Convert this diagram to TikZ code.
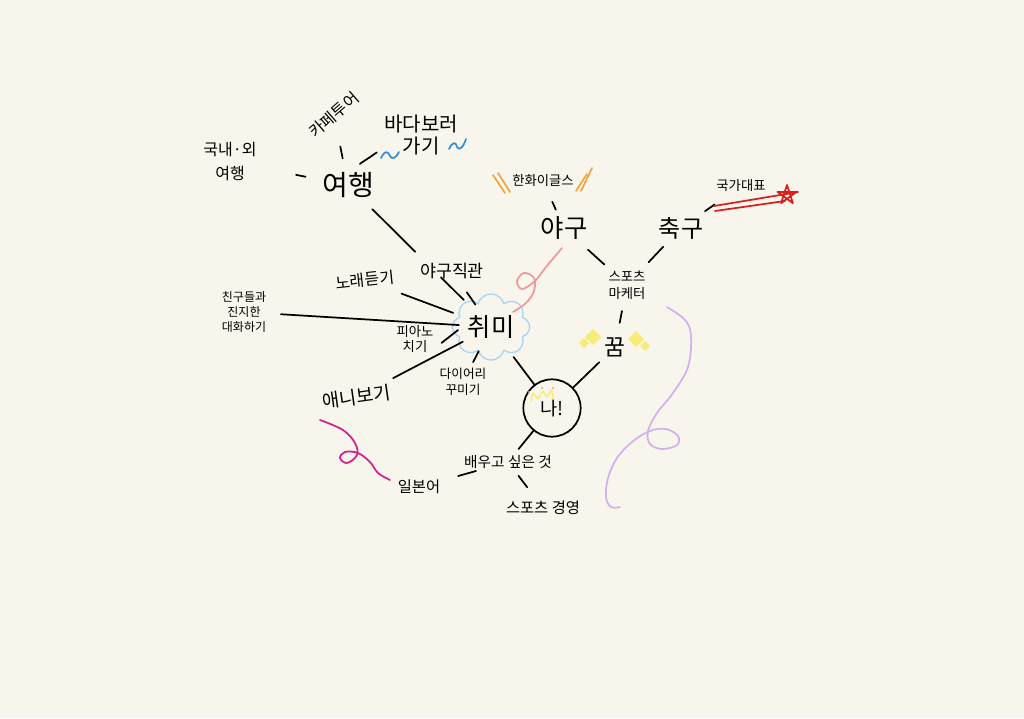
\documentclass[tikz,border=0pt]{standalone}
\usepackage{fontspec}
\setmainfont{Noto Sans CJK KR}
\usepackage{tikz}
\usetikzlibrary{calc,shapes.symbols}
\definecolor{paper}{HTML}{F8F6EC}
\definecolor{cloudblue}{HTML}{A9D5F2}
\definecolor{waveblue}{HTML}{2E8FE0}
\definecolor{eagleorange}{HTML}{F0A540}
\definecolor{flagred}{HTML}{D81F1F}
\definecolor{softpink}{HTML}{EE9A9A}
\definecolor{hotpink}{HTML}{D4208C}
\definecolor{lilac}{HTML}{D4B0EC}
\definecolor{sparkle}{HTML}{F6EC78}

\begin{document}
\begin{tikzpicture}[x=0.75pt, y=-0.75pt, line cap=round, line join=round,
  link/.style={line width=1.3pt},
  lbl/.style={align=center, inner sep=2pt},
  doodle/.style={line width=1.3pt}]

\fill[paper] (0,0) rectangle (1024,718);
\useasboundingbox (0,0) rectangle (1024,718);

% travel
\node (yeohaeng) at (348,185) [font=\fontsize{21}{24}\selectfont]{여행};
\node (cafe) at (334,115) [rotate=41, font=\fontsize{12}{14}\selectfont]{카페투어};
\node (bada) at (421,135) [lbl, font=\fontsize{15}{17}\selectfont]{바다보러\\가기};
\node (abroad) at (230,162) [lbl, font=\fontsize{12}{18}\selectfont]{국내·외\\여행};

% sports
\node (hanwha) at (543,181) [font=\fontsize{10}{12}\selectfont]{한화이글스};
\node (yagu) at (564,228) [font=\fontsize{19}{22}\selectfont]{야구};
\node (chukgu) at (681,228) [font=\fontsize{18}{22}\selectfont]{축구};
\node (national) at (741,186) [font=\fontsize{10}{12}\selectfont]{국가대표};
\node (marketer) at (627,285) [lbl, font=\fontsize{10}{13}\selectfont]{스포츠\\마케터};
\node (kkum) at (615,347) [font=\fontsize{17}{18}\selectfont]{꿈};

% hobbies
\node (yj) at (452,271) [font=\fontsize{13}{15}\selectfont]{야구직관};
\node (song) at (365,280) [rotate=6, font=\fontsize{12}{14}\selectfont]{노래듣기};
\node (friends) at (244,312) [lbl, font=\fontsize{9}{11}\selectfont]{친구들과\\진지한\\대화하기};
\node (piano) at (415,339) [lbl, font=\fontsize{10}{11.5}\selectfont]{피아노\\치기};
\node (chwimi) at (491,327) [cloud, cloud puffs=8, aspect=1.3, draw=cloudblue, line width=1pt,
  minimum width=58pt, minimum height=45pt, inner sep=0pt, font=\fontsize{19}{20}\selectfont]{취미};
\node (ani) at (357,397) [rotate=8, font=\fontsize{14}{16}\selectfont]{애니보기};
\node (diary) at (463,382) [lbl, font=\fontsize{9.5}{12}\selectfont]{다이어리\\꾸미기};

% me and learning
\node (na) at (552,408) [circle, draw, line width=1.3pt, minimum size=43pt, inner sep=0pt,
  font=\fontsize{14}{16}\selectfont]{\raisebox{-4pt}{나!}};
\node (learn) at (508,462) [font=\fontsize{11}{12}\selectfont]{배우고 싶은 것};
\node (japanese) at (419,487) [font=\fontsize{11.5}{13}\selectfont]{일본어};
\node (sportsmgmt) at (543,508) [font=\fontsize{11.5}{13}\selectfont]{스포츠 경영};

% connectors
\draw[link] ($(yeohaeng)!.38!(cafe)$) -- ($(yeohaeng)!.55!(cafe)$);
\draw[link, shorten <=5pt, shorten >=4pt] (yeohaeng.70) -- (bada.200);
\draw[link] ($(yeohaeng)!.36!(abroad)$) -- ($(yeohaeng)!.44!(abroad)$);
\draw[link] ($(yeohaeng)!.17!(chwimi)$) -- ($(yeohaeng)!.47!(chwimi)$);
\draw[link] ($(yeohaeng)!.65!(chwimi)$) -- ($(yeohaeng)!.81!(chwimi)$);
\draw[link] ($(yj)!.38!(chwimi)$) -- ($(yj)!.6!(chwimi)$);
\draw[link] ($(song)!.29!(chwimi)$) -- ($(song)!.7!(chwimi)$);
\draw[link] ($(friends)!.15!(chwimi)$) -- ($(friends)!.87!(chwimi)$);
\draw[link, shorten <=5pt, shorten >=-6pt] ([yshift=-6pt]piano.east) -- ([yshift=-6pt]chwimi.west);
\draw[link] ($(ani)!.27!(chwimi)$) -- ($(ani)!.79!(chwimi)$);
\draw[link] ($(diary)!.36!(chwimi)$) -- ($(diary)!.56!(chwimi)$);
\draw[link] ($(chwimi)!.37!(na)$) -- (na);
\draw[link] ($(kkum)!.25!(na)$) -- (na);
\draw[link] ($(marketer)!.42!(kkum)$) -- ($(marketer)!.61!(kkum)$);
\draw[link] ($(yagu)!.38!(marketer)$) -- ($(yagu)!.64!(marketer)$);
\draw[link] ($(marketer)!.4!(chukgu)$) -- ($(marketer)!.67!(chukgu)$);
\draw[link] ($(hanwha)!.44!(yagu)$) -- ($(hanwha)!.61!(yagu)$);
\draw[link] ($(chukgu)!.4!(national)$) -- ($(chukgu)!.56!(national)$);
\draw[link] (na) -- ($(na)!.76!(learn)$);
\draw[link] ($(learn)!.36!(japanese)$) -- ($(learn)!.56!(japanese)$);
\draw[link] ($(learn)!.3!(sportsmgmt)$) -- ($(learn)!.55!(sportsmgmt)$);

% waves beside the sea
\draw[waveblue, doodle] (381,158) .. controls (385,150) and (388,151) .. (390,156)
  .. controls (392,160) and (396,158) .. (399,152);
\draw[waveblue, doodle] (449,149) .. controls (453,141) and (456,142) .. (457,147)
  .. controls (459,151) and (463,148) .. (466,139);

% eagles slashes
\draw[eagleorange, doodle] (493,175) -- (505,193);
\draw[eagleorange, doodle] (498,173) -- (510,192);
\draw[eagleorange, doodle] (587,174) -- (576,191);
\draw[eagleorange, doodle] (592,168) -- (581,191);

% national team streak
\draw[flagred, doodle] (714,206) -- (798,192);
\draw[flagred, doodle] (715,211) -- (785,201);
\draw[flagred, doodle] (787,195) +(-90:10) -- +(54:10) -- +(198:10) -- +(342:10) -- +(126:10) -- cycle;

% sparkles round the dream
\fill[sparkle] (593,337) +(0,-8) .. controls +(0,0) and +(0,0) .. +(8,0) .. controls +(0,0) and +(0,0) .. +(0,8)
  .. controls +(0,0) and +(0,0) .. +(-8,0) .. controls +(0,0) and +(0,0) .. cycle;
\fill[sparkle] (584,343) +(0,-5) .. controls +(0,0) and +(0,0) .. +(5,0) .. controls +(0,0) and +(0,0) .. +(0,5)
  .. controls +(0,0) and +(0,0) .. +(-5,0) .. controls +(0,0) and +(0,0) .. cycle;
\fill[sparkle] (636,339) +(0,-8) .. controls +(0,0) and +(0,0) .. +(8,0) .. controls +(0,0) and +(0,0) .. +(0,8)
  .. controls +(0,0) and +(0,0) .. +(-8,0) .. controls +(0,0) and +(0,0) .. cycle;
\fill[sparkle] (645,346) +(0,-5) .. controls +(0,0) and +(0,0) .. +(5,0) .. controls +(0,0) and +(0,0) .. +(0,5)
  .. controls +(0,0) and +(0,0) .. +(-5,0) .. controls +(0,0) and +(0,0) .. cycle;

% crown
\draw[sparkle, line width=1.1pt] (531,401) -- (533,393) -- (538,399) -- (543,391) -- (547,397)
  -- (552,390) -- (553,399);
\fill[softpink] (529,392) circle (1.2) (542,388) circle (1.2) (553,388) circle (1.2);

% scribbles
\draw[softpink, doodle] plot[smooth, tension=.6] coordinates {(562,248) (546,267) (535,281)
  (522,289) (517,281) (524,273) (534,278) (534,291) (526,303) (513,312)};
\draw[hotpink, doodle] plot[smooth, tension=.6] coordinates {(320,420) (343,430) (355,443)
  (357,455) (347,463) (340,458) (345,452) (358,453) (370,462) (378,473) (390,480)};
\draw[lilac, doodle] plot[smooth, tension=.6] coordinates {(667,307) (685,320) (691,336)
  (688,367) (673,393) (657,413) (648,431) (650,444) (662,449) (677,445) (678,436) (666,429)
  (650,431) (632,442) (617,458) (608,478) (606,497) (611,507) (620,507)};

\end{tikzpicture}
\end{document}
